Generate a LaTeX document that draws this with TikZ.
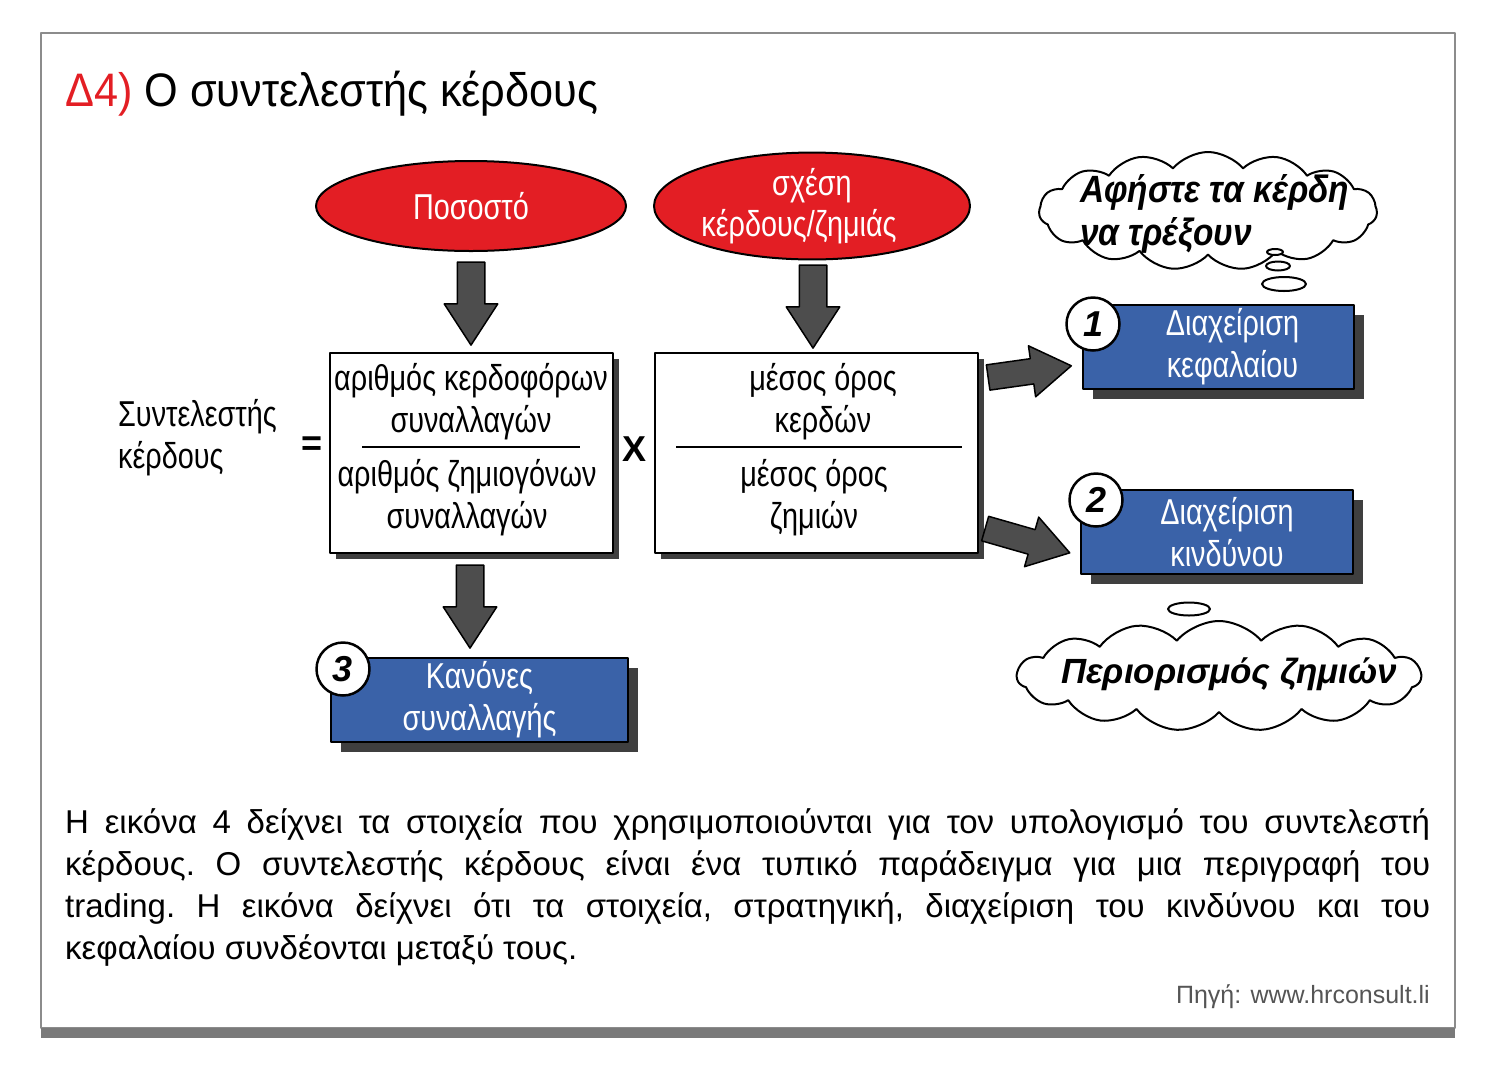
\documentclass[tikz,border=0pt]{standalone}
\usepackage{fontspec}
\setmainfont{Liberation Sans}
\newfontfamily\narrowfont[FakeStretch=0.8]{Liberation Sans}
\newfontfamily\titlefont[FakeStretch=0.92]{Liberation Sans}
\newfontfamily\cloudfont[FakeStretch=0.88]{Liberation Sans}
\usetikzlibrary{positioning,calc,shapes.geometric,shapes.arrows,shapes.symbols,shadows}
\definecolor{hrred}{HTML}{E31E24}
\definecolor{hrblue}{HTML}{3A62A8}
\definecolor{arrowgray}{HTML}{4D4D4D}
\definecolor{shadowgray}{HTML}{3F3F3F}
\definecolor{framegray}{HTML}{8C8C8C}
\definecolor{bargray}{HTML}{7A7A7A}
\definecolor{sourcegray}{HTML}{555555}
\tikzset{
  redoval/.style={ellipse, fill=hrred, draw=black, line width=2, text=white, inner sep=0,
    align=center, font=\narrowfont\fontsize{36}{41}\selectfont},
  fracbox/.style={rectangle, fill=white, draw=black, line width=2, inner sep=0,
    drop shadow={shadow xshift=6pt, shadow yshift=-6pt, fill=shadowgray, opacity=1}},
  fractext/.style={align=center, inner sep=0, font=\narrowfont\fontsize{36}{42}\selectfont},
  bluebox/.style={rectangle, fill=hrblue, draw=black, line width=2, inner sep=0,
    drop shadow={shadow xshift=10pt, shadow yshift=-10pt, fill=shadowgray, opacity=1}},
  bluetext/.style={fractext, text=white},
  numcircle/.style={circle, fill=white, draw=black, line width=2.5, minimum size=53, inner sep=0,
    font=\fontsize{36}{36}\selectfont\bfseries\itshape},
  blockarrow/.style={single arrow, fill=arrowgray, draw=black, line width=1.5, minimum width=52,
    single arrow head extend=13, single arrow tip angle=66, inner xsep=0, inner ysep=13},
  downarrow/.style={blockarrow, shape border rotate=270, inner xsep=13, inner ysep=0},
  thought/.style={cloud, draw=black, line width=2, fill=white, cloud puffs=15, cloud puff arc=100,
    cloud ignores aspect, inner sep=0},
  bubble/.style={ellipse, draw=black, line width=2, fill=white, inner sep=0},
  cloudtext/.style={align=left, inner sep=0, font=\cloudfont\fontsize{38}{43}\selectfont\bfseries\itshape}
}
\begin{document}
\begin{tikzpicture}[x=1pt, y=-1pt, line join=round]
  \useasboundingbox (0,0) rectangle (1492,1080);
  \fill[white] (0,0) rectangle (1492,1080);
  % frame
  \draw[framegray, line width=2] (41,33) rectangle (1455,1028);
  \fill[bargray] (41,1028) rectangle (1455,1038);
  \node[anchor=base west, inner sep=0, font=\titlefont\fontsize{47}{56}\selectfont] (title) at (65,106)
    {\textcolor{hrred}{Δ4)} Ο συντελεστής κέρδους};

  % inputs
  \node[redoval, minimum width=310, minimum height=90] (pososto) at (471,206) {Ποσοστό};
  \node[redoval, minimum width=316, minimum height=94] (sxesi) at (812,206) {σχέση\\κέρδους/ζημιάς\hspace*{26pt}};

  % the formula
  \node[fractext, anchor=west, align=left] (syntel) at (118,438) {Συντελεστής\\κέρδους};
  \node[inner sep=0, font=\fontsize{36}{36}\selectfont\bfseries] (ison) at (312,446) {=};
  \node[fracbox, minimum width=283, minimum height=200] (frac1) at (471.5,453) {};
  \node[fractext] (num1) at (471,402) {αριθμός κερδοφόρων\\συναλλαγών};
  \node[fractext] (den1) at (467,498) {αριθμός ζημιογόνων\\συναλλαγών};
  \draw[line width=1.5] (362,447) -- (580,447);
  \node[inner sep=0, font=\fontsize{36}{36}\selectfont\bfseries] (epi) at (634,449) {X};
  \node[fracbox, minimum width=323, minimum height=200] (frac2) at (816.5,453) {};
  \node[fractext] (num2) at (823,402) {μέσος όρος\\κερδών};
  \node[fractext] (den2) at (814,498) {μέσος όρος\\ζημιών};
  \draw[line width=1.5] (676,447) -- (962,447);

  % arrows
  \node[downarrow, minimum height=83] (a1) at (471,293) {};
  \node[downarrow, minimum height=83] (a2) at (813,296) {};
  \node[downarrow, minimum height=83] (a3) at (470,596) {};
  \node[blockarrow, minimum height=84, minimum width=50, inner ysep=12, rotate=8] (a4) at (1020,373) {};
  \node[blockarrow, minimum height=88, minimum width=50, inner ysep=12, rotate=-16] (a5) at (1018,538) {};

  % results
  \node[bluebox, minimum width=271, minimum height=84] (kefalaio) at (1218.5,347) {};
  \node[bluetext] (kefalaiot) at ($(kefalaio.center)+(14,0)$) {Διαχείριση\\κεφαλαίου};
  \node[bluebox, minimum width=272, minimum height=84] (kindynos) at (1217,532) {};
  \node[bluetext] (kindynost) at ($(kindynos.center)+(10,0)$) {Διαχείριση\\κινδύνου};
  \node[bluebox, minimum width=297, minimum height=84] (kanones) at (479.5,700) {};
  \node[bluetext] (kanonest) at (kanones.center) {Κανόνες\\συναλλαγής};
  \node[numcircle] (n1) at (1093,324) {1};
  \node[numcircle] (n2) at (1096,500) {2};
  \node[numcircle] (n3) at (343,669) {3};

  % thoughts
  \node[thought, minimum width=338, minimum height=118] (cloud1) at (1208,211) {};
  \node[bubble, minimum width=16, minimum height=6] (b11) at (1275,252) {};
  \node[bubble, minimum width=24, minimum height=9] (b12) at (1278,266) {};
  \node[bubble, minimum width=44, minimum height=14] (b13) at (1284,284) {};
  \node[cloudtext, anchor=base west] (trexoun) at (1080,245) {Αφήστε τα κέρδη\\να τρέξουν};
  \node[thought, minimum width=404, minimum height=110] (cloud2) at (1219,676) {};
  \node[bubble, minimum width=42, minimum height=13] (b21) at (1189,609) {};
  \node[cloudtext, font=\fontsize{35}{40}\selectfont\bfseries\itshape] (zimies) at (1229,674) {Περιορισμός ζημιών};

  % caption
  \node[anchor=north west, inner sep=0, text width=1365, align=justify,
    font=\fontsize{33}{42}\selectfont\frenchspacing] (caption) at (65,808)
    {Η εικόνα 4 δείχνει τα στοιχεία που χρησιμοποιούνται για τον υπολογισμό του συντελεστή\linebreak
     κέρδους. Ο συντελεστής κέρδους είναι ένα τυπικό παράδειγμα για μια περιγραφή του\linebreak
     trading. Η εικόνα δείχνει ότι τα στοιχεία, στρατηγική, διαχείριση του κινδύνου και του\linebreak
     κεφαλαίου συνδέονται μεταξύ τους.};
  \node[anchor=base east, inner sep=0, text=sourcegray, font=\fontsize{25}{30}\selectfont]
    (source) at (1430,1003) {Πηγή: www.hrconsult.li};
\end{tikzpicture}
\end{document}
